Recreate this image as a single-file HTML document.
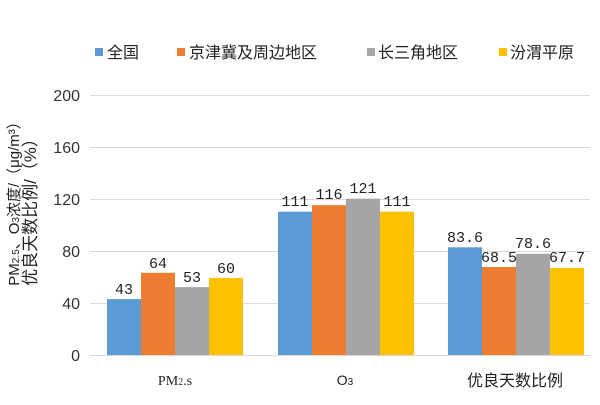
<!DOCTYPE html>
<html><head><meta charset="utf-8"><style>
html,body{margin:0;padding:0;background:#fff;}
svg text{font-family:"Liberation Sans","Noto Sans CJK SC",sans-serif;}
</style></head><body>
<svg width="600" height="400" viewBox="0 0 600 400" xmlns="http://www.w3.org/2000/svg">
<rect width="600" height="400" fill="#fff"/>
<g font-size="16" fill="#222">
<rect x="95" y="48" width="8" height="8" fill="#5b9bd5"/><text x="107" y="58">全国</text>
<rect x="177" y="48" width="8" height="8" fill="#ed7d31"/><text x="189" y="58">京津冀及周边地区</text>
<rect x="367" y="48" width="8" height="8" fill="#a5a5a5"/><text x="378" y="58">长三角地区</text>
<rect x="499" y="48" width="8" height="8" fill="#ffc000"/><text x="510" y="58">汾渭平原</text>
</g>
<g stroke="#d9d9d9" stroke-width="1">
<line x1="90" y1="95.5" x2="590" y2="95.5"/>
<line x1="90" y1="147.5" x2="590" y2="147.5"/>
<line x1="90" y1="199.5" x2="590" y2="199.5"/>
<line x1="90" y1="251.5" x2="590" y2="251.5"/>
<line x1="90" y1="303.5" x2="590" y2="303.5"/>
</g>
<g font-size="16" fill="#333" text-anchor="end">
<text x="80" y="101">200</text><text x="80" y="153">160</text><text x="80" y="205">120</text>
<text x="80" y="257">80</text><text x="80" y="309">40</text><text x="80" y="361">0</text>
</g>
<g>
<rect x="107" y="299.1" width="34" height="56.9" fill="#5b9bd5"/>
<rect x="141" y="272.8" width="34" height="83.2" fill="#ed7d31"/>
<rect x="175" y="287.1" width="34" height="68.9" fill="#a5a5a5"/>
<rect x="209" y="278" width="34" height="78" fill="#ffc000"/>
<rect x="278" y="211.7" width="34" height="144.3" fill="#5b9bd5"/>
<rect x="312" y="205.2" width="34" height="150.8" fill="#ed7d31"/>
<rect x="346" y="198.7" width="34" height="157.3" fill="#a5a5a5"/>
<rect x="380" y="211.7" width="34" height="144.3" fill="#ffc000"/>
<rect x="448" y="247.3" width="34" height="108.7" fill="#5b9bd5"/>
<rect x="482" y="267" width="34" height="89" fill="#ed7d31"/>
<rect x="516" y="253.8" width="34" height="102.2" fill="#a5a5a5"/>
<rect x="550" y="268" width="34" height="88" fill="#ffc000"/>
</g>
<line x1="90" y1="355.5" x2="590" y2="355.5" stroke="#d9d9d9"/>
<g font-size="15" fill="#222" text-anchor="middle">
<text x="124" y="294" style="font-family:'Liberation Mono',monospace">43</text>
<text x="158" y="268" style="font-family:'Liberation Mono',monospace">64</text>
<text x="192" y="282" style="font-family:'Liberation Mono',monospace">53</text>
<text x="226" y="273" style="font-family:'Liberation Mono',monospace">60</text>
<text x="295" y="206" style="font-family:'Liberation Mono',monospace">111</text>
<text x="329" y="199" style="font-family:'Liberation Mono',monospace">116</text>
<text x="363" y="193" style="font-family:'Liberation Mono',monospace">121</text>
<text x="397" y="206" style="font-family:'Liberation Mono',monospace">111</text>
<text x="465" y="242" style="font-family:'Liberation Mono',monospace">83.6</text>
<text x="499" y="262" style="font-family:'Liberation Mono',monospace">68.5</text>
<text x="533" y="248" style="font-family:'Liberation Mono',monospace">78.6</text>
<text x="567" y="262" style="font-family:'Liberation Mono',monospace">67.7</text>
</g>
<g font-size="14" fill="#222" text-anchor="middle">
<text x="175" y="385" style="font-family:'Liberation Serif',serif">PM<tspan font-size="10">2</tspan>.s</text>
<text x="345" y="385">O<tspan font-size="10">3</tspan></text>
<text x="515" y="386" font-size="16">优良天数比例</text>
</g>
<g fill="#222" text-anchor="middle">
<text transform="translate(19,200) rotate(-90)" font-size="15">PM<tspan font-size="10">2.5</tspan>、O<tspan font-size="10">3</tspan>浓度/（μg/m³）</text>
<text transform="translate(36,208) rotate(-90)" font-size="17">优良天数比例/（%）</text>
</g>
</svg>
</body></html>
